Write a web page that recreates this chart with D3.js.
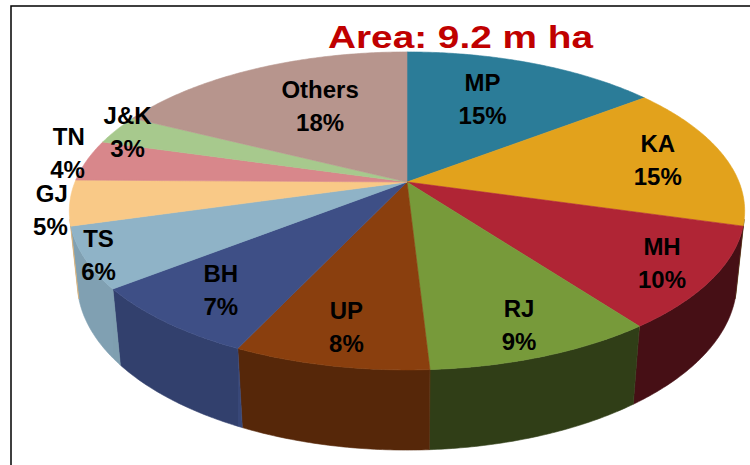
<!DOCTYPE html>
<html>
<head>
<meta charset="utf-8">
<style>
body { margin: 0; background: #fff; }
text { font-family: "Liberation Sans", Arial, sans-serif; font-weight: bold; }
</style>
</head>
<body>
<svg id="chart" width="750" height="465"></svg>
<script src="https://cdn.jsdelivr.net/npm/d3@7"></script>
<script>
// maize area share by state
var states = ["MP", "KA", "MH", "RJ", "UP", "BH", "TS", "GJ", "TN", "J&K", "Others"];
var shares = [14.6, 14.8, 10.4, 9.3, 7.9, 7.4, 6.2, 4.6, 4.2, 3.0, 17.6];
var palette = ["#2b7c98", "#e2a21c", "#b02535", "#779a3a", "#8a3f0e", "#3e4f86",
               "#8fb3c7", "#f9c987", "#d8878b", "#a7c98d", "#b7958d"];
var title = "Area: 9.2 m ha";

var svg = d3.select("#chart");
var color = d3.scaleOrdinal(states, palette);

// perspective camera for the tilted disc
var cx = 407, cy = 182, F = 1617, D = 4.87, S = 0.463, C = 0.886, depth = 0.244;
function projectUV(u, v, h) {
    var yc = S * v + C * h, zc = D - C * v + S * h;
    return [cx + F * u / zc, cy + F * yc / zc];
}
function project(a, r, h) {
    return projectUV(r * Math.sin(a), -r * Math.cos(a), h);
}
function arcPts(a0, a1, r, h) {
    var n = Math.max(2, Math.ceil(Math.abs(a1 - a0) / 0.01));
    return d3.range(n + 1).map(function (i) { return project(a0 + (a1 - a0) * i / n, r, h); });
}
// shading of the outer wall, light from front-left
function shade(c, a) {
    var dot = Math.max(0, -0.87 * Math.sin(a) - 0.5 * Math.cos(a));
    var k = 0.4 + 0.5 * dot, col = d3.rgb(c);
    return d3.rgb(col.r * k, col.g * k, col.b * k).formatHex();
}

var pie = d3.pie().sort(null).value(function (d) { return d; });
var arcs = pie(shares);
var line = d3.line();

// frame
svg.append("rect").attr("x", 11).attr("y", 6).attr("width", 760).attr("height", 480)
    .attr("fill", "none").attr("stroke", "#000").attr("stroke-width", 1.5);

// visible wall lies where -cos(a) > 1/(D*C)
var vis = 1 / (D * C);
var aMin = Math.acos(-vis), aMax = 2 * Math.PI - Math.acos(-vis);
var defs = svg.append("defs");

arcs.forEach(function (d, i) {
    var a0 = Math.max(d.startAngle, aMin), a1 = Math.min(d.endAngle, aMax);
    if (a1 <= a0) return;
    var top = arcPts(a0, a1, 1, 0), bot = arcPts(a1, a0, 1, depth);
    var xs = top.map(function (p) { return p[0]; });
    var x0 = d3.min(xs), x1 = d3.max(xs);
    var g = defs.append("linearGradient").attr("id", "wall" + i)
        .attr("gradientUnits", "userSpaceOnUse")
        .attr("x1", x0).attr("x2", x1).attr("y1", 0).attr("y2", 0);
    d3.range(9).forEach(function (j) {
        var a = a0 + (a1 - a0) * j / 8, x = project(a, 1, 0)[0];
        g.append("stop").attr("offset", x1 > x0 ? (x - x0) / (x1 - x0) : 0)
            .attr("stop-color", shade(color(states[i]), a));
    });
    svg.append("path").attr("d", line(top.concat(bot)) + "Z")
        .attr("fill", "url(#wall" + i + ")")
        .attr("stroke", "url(#wall" + i + ")").attr("stroke-width", 0.6);
});

// top face
arcs.forEach(function (d, i) {
    var pts = [project(0, 0, 0)].concat(arcPts(d.startAngle, d.endAngle, 1, 0));
    svg.append("path").attr("d", line(pts) + "Z")
        .attr("fill", color(states[i]))
        .attr("stroke", color(states[i])).attr("stroke-width", 0.6);
});

// data labels: big slices inside, small ones on the rim,
// the smallest near the sides pushed outside the rim
var fs = 24, gap = 33, cap = 17.2, minSep = 57;
var labels = arcs.map(function (d, i) {
    var a = (d.startAngle + d.endAngle) / 2;
    var u = Math.sin(a), v = -Math.cos(a);
    var anchor = "middle", p;
    if (d.data >= 7) {
        var r = 0.72 + 0.1 * v + 0.09 * Math.max(0, u);
        var squeeze = 1 + 0.25 * Math.min(0, v + 0.3);
        p = projectUV(r * u * squeeze, r * v, 0);
    } else if (Math.abs(v) < 0.3) {
        p = project(a, 1, 0);
        p[0] += u < 0 ? -2 : 2;
        anchor = u < 0 ? "end" : "start";
    } else {
        p = project(a, 0.96, 0);
    }
    var t = svg.append("text").attr("text-anchor", anchor)
        .attr("font-size", fs).attr("fill", "#000");
    t.append("tspan").attr("x", p[0]).text(states[i]);
    t.append("tspan").attr("x", p[0]).text(Math.round(d.data) + "%");
    return { node: t, x: p[0], y: p[1], small: d.data < 7 };
});

// measure widths, then push overlapping small labels apart vertically
labels.forEach(function (l) {
    var w = l.node.node().getBBox().width;
    var anchor = l.node.attr("text-anchor");
    l.x0 = anchor === "end" ? l.x - w : anchor === "start" ? l.x : l.x - w / 2;
    l.x1 = l.x0 + w;
});
var small = labels.filter(function (l) { return l.small; });
for (var it = 0; it < 30; it++) {
    small.forEach(function (a) {
        small.forEach(function (b) {
            if (a === b || a.y > b.y) return;
            if (a.x1 < b.x0 || b.x1 < a.x0) return;
            var dy = b.y - a.y;
            if (dy < minSep) {
                var m = (minSep - dy) / 2;
                a.y -= m; b.y += m;
            }
        });
    });
}
labels.forEach(function (l) {
    var b1 = l.y - gap / 2 + cap / 2;
    l.node.selectAll("tspan").attr("y", function (d, j) { return b1 + j * gap; });
});

svg.append("text").attr("x", 328).attr("y", 48)
    .attr("font-size", 32).attr("fill", "#c00000")
    .attr("textLength", 265).attr("lengthAdjust", "spacingAndGlyphs")
    .text(title);
</script>
</body>
</html>
